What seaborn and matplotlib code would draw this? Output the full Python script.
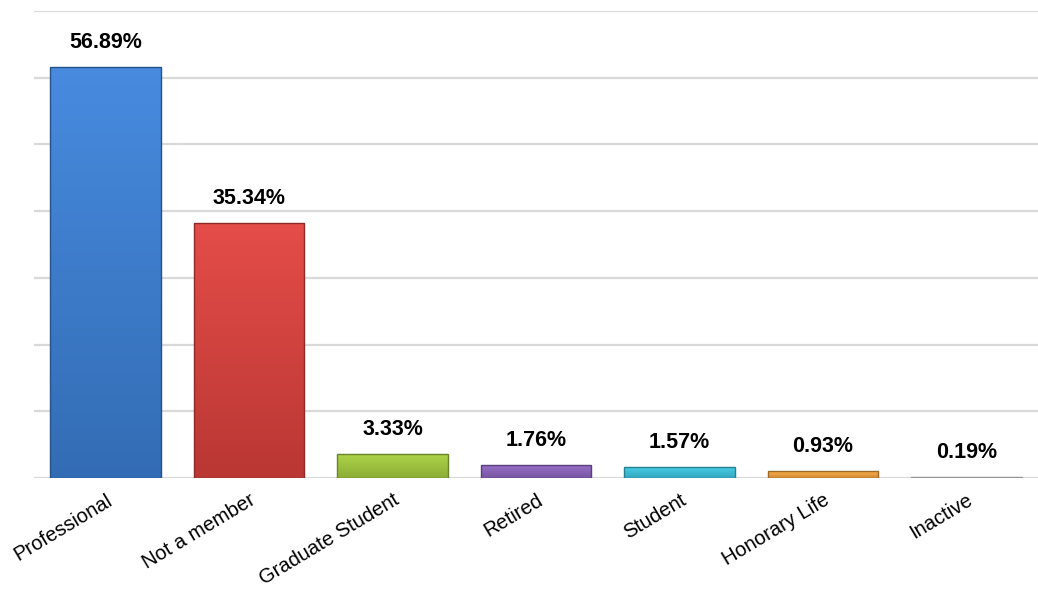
import matplotlib
matplotlib.use("Agg")
import matplotlib.pyplot as plt
import matplotlib.colors as mcolors
import numpy as np
import pandas as pd
import seaborn as sns

# Data
categories = ['Professional', 'Not a member', 'Graduate Student', 'Retired',
              'Student', 'Honorary Life', 'Inactive']
percent = [56.89, 35.34, 3.33, 1.76, 1.57, 0.93, 0.19]
bar_colors = ['#3b7ed2', '#d8403c', '#a2c93e', '#8a63bb', '#3cc3dc', '#f1a23f', '#e6e6e6']

df = pd.DataFrame({'category': categories, 'percent': percent})

sns.set_style('white')
plt.rcParams['font.family'] = ['Liberation Sans', 'DejaVu Sans']
plt.rcParams['text.color'] = 'black'
plt.rcParams['xtick.color'] = 'black'

fig = plt.figure(figsize=(10.38, 5.9), dpi=100)
ax = fig.add_axes([34 / 1038, 1 - 478 / 590, 1 - 34 / 1038, (478 - 11) / 590])

sns.barplot(data=df, x='category', y='percent', hue='category',
            palette=bar_colors, width=0.77, legend=False, ax=ax,
            edgecolor='none', zorder=3)

# Gradient shading to mimic the bevelled bars
for patch, c in zip(ax.patches, bar_colors):
    x0, y0 = patch.get_x(), patch.get_y()
    w, h = patch.get_width(), patch.get_height()
    base = np.array(mcolors.to_rgb(c))
    light = np.clip(base + 0.05, 0, 1)
    dark = base * 0.86
    t = np.linspace(0, 1, 64)[:, None]
    grad = light * (1 - t[..., None]) + dark * t[..., None]
    grad = np.repeat(grad, 8, axis=1)
    im = ax.imshow(grad, extent=[x0, x0 + w, y0, y0 + h], origin='upper',
                   aspect='auto', zorder=3.5, interpolation='bilinear')
    im.set_clip_path(patch)
    border = plt.Rectangle((x0, y0), w, h, fill=False,
                           edgecolor=tuple(base * 0.65), linewidth=1.0, zorder=4)
    ax.add_patch(border)

step = 64.6 / 7
ax.set_xlim(-0.5, len(categories) - 0.5)
ax.set_ylim(0, 64.6)
ax.set_yticks([step * i for i in range(8)])
ax.set_yticklabels([])
ax.yaxis.grid(True, color='#d9d9d9', linewidth=1.6, zorder=0)
ax.tick_params(axis='both', length=0)
for s in ax.spines.values():
    s.set_visible(False)

ax.set_xlabel('')
ax.set_ylabel('')
ax.set_xticks(range(len(categories)))
ax.set_xticklabels(categories, rotation=31, ha='right', rotation_mode='anchor',
                   fontsize=14.5)
ax.tick_params(axis='x', pad=9)

for i, v in enumerate(percent):
    ax.annotate(f'{v:.2f}%', (i, v), xytext=(0, 10), textcoords='offset points',
                ha='center', va='bottom', fontsize=15.5, fontweight='bold',
                color='black')

fig.savefig('out.png', dpi=100, facecolor='white')
